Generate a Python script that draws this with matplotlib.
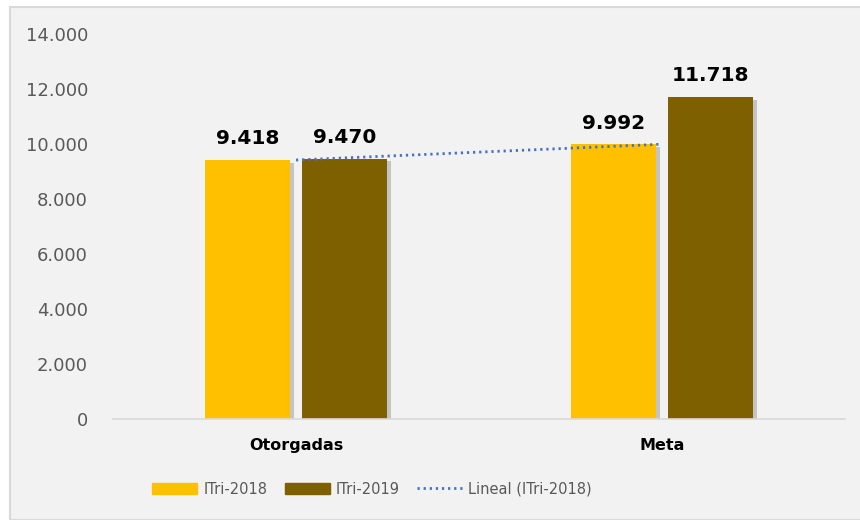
import matplotlib.pyplot as plt
import matplotlib.patheffects as pe
from matplotlib.patches import Rectangle
from matplotlib.ticker import FuncFormatter
from matplotlib.lines import Line2D

categories = ["Otorgadas", "Meta"]
itri_2018 = [9418, 9992]
itri_2019 = [9470, 11718]
series_names = ["ITri-2018", "ITri-2019"]
trend_name = "Lineal (ITri-2018)"
y_ticks = [0, 2000, 4000, 6000, 8000, 10000, 12000, 14000]


def dot_thousands(v):
    return f"{v:,.0f}".replace(",", ".")


fig = plt.figure(figsize=(8.6, 5.2), dpi=100, facecolor="white")

# chart area background with thin border
fig.patches.append(Rectangle((10 / 860, 0), 1.0, 1 - 7 / 520, transform=fig.transFigure,
                             facecolor="#F2F2F2", edgecolor="#D9D9D9", linewidth=1.5, zorder=-10))

ax = fig.add_axes([113 / 860, 101 / 520, (845 - 113) / 860, (419 - 34) / 520])
ax.set_facecolor("none")

x = list(range(len(categories)))
w = 0.233
off = 0.133
shadow = [pe.SimplePatchShadow(offset=(3, -2), shadow_rgbFace="#7F7F7F", alpha=0.4), pe.Normal()]

b1 = ax.bar([i - off for i in x], itri_2018, width=w, color="#FFC000", path_effects=shadow,
            label=series_names[0], zorder=2)
b2 = ax.bar([i + off for i in x], itri_2019, width=w, color="#7F6000", path_effects=shadow,
            label=series_names[1], zorder=2)

for bars in (b1, b2):
    for r in bars:
        ax.text(r.get_x() + r.get_width() / 2, r.get_height() + 420, dot_thousands(r.get_height()),
                ha="center", va="bottom", fontsize=14.5, fontweight="bold", color="black")

# linear trend of ITri-2018 across the two categories
ax.plot(x, itri_2018, color="#4472C4", linewidth=2, linestyle=(0, (0.8, 1.4)), zorder=3)

ax.set_xlim(-0.5, 1.5)
ax.set_ylim(0, 14000)
ax.set_yticks(y_ticks)
ax.yaxis.set_major_formatter(FuncFormatter(lambda v, p: dot_thousands(v)))
ax.set_xticks(x)
ax.set_xticklabels(categories, fontsize=11.5, fontweight="bold", color="black")
ax.tick_params(axis="y", length=0, labelsize=13, labelcolor="#595959", pad=18)
ax.tick_params(axis="x", length=0, pad=14)
for s in ("top", "right", "left"):
    ax.spines[s].set_visible(False)
ax.spines["bottom"].set_color("#D9D9D9")
ax.spines["bottom"].set_linewidth(1.2)

handles = [
    Rectangle((0, 0), 1, 1, color="#FFC000"),
    Rectangle((0, 0), 1, 1, color="#7F6000"),
    Line2D([0], [0], color="#4472C4", linewidth=2, linestyle=(0, (0.8, 1.4))),
]
leg = fig.legend(handles, series_names + [trend_name], loc="center left",
                 bbox_to_anchor=(139 / 860, 31 / 520), ncol=3, frameon=False,
                 fontsize=10.5, handlelength=3.1, handleheight=0.75, handletextpad=0.4,
                 columnspacing=1.2)
for t in leg.get_texts():
    t.set_color("#595959")

fig.savefig("out.png", dpi=100, facecolor="white")
